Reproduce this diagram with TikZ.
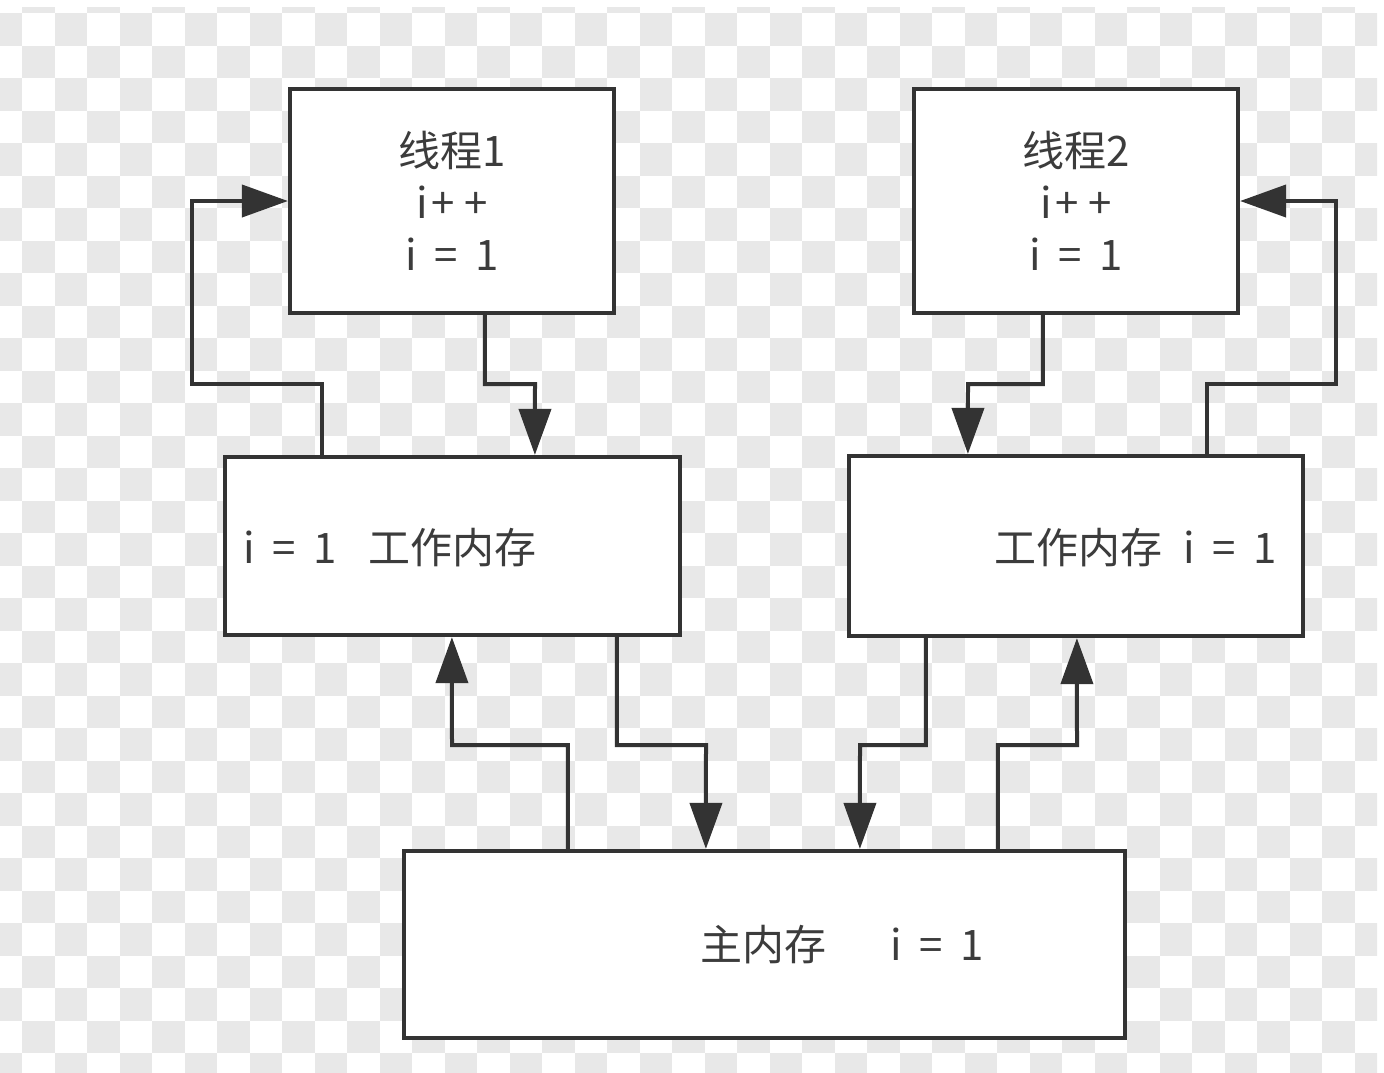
\documentclass[tikz,border=0pt]{standalone}
\usepackage{fontspec}
\newfontfamily\cjk{Noto Sans CJK SC}
\usetikzlibrary{arrows.meta}
\definecolor{linec}{HTML}{333333}
\definecolor{textc}{HTML}{3C3C3C}
\definecolor{chk}{RGB}{232,232,232}
\newcommand{\myieq}{i\hspace{0.42em}=\hspace{0.42em}1}
\newcommand{\myipp}{i\hspace{0.08em}+\hspace{0.22em}+}
\begin{document}
\begin{tikzpicture}[x=1pt,y=-1pt,
  box/.style={draw=linec, line width=4.2pt, fill=white, rectangle, inner sep=0pt},
  txt/.style={text=textc, inner sep=0pt, font=\cjk\fontsize{42pt}{52pt}\selectfont},
  conn/.style={draw=linec, line width=4pt, -{Triangle[length=46pt,width=32pt]}}]
\useasboundingbox (0,0) rectangle (1384,1072);
\fill[white] (0,0) rectangle (1384,1072);
\begin{scope}
\clip (0,7) rectangle (1377,1072);
\foreach \j in {0,...,33}{
  \pgfmathtruncatemacro\s{mod(\j+1,2)}
  \pgfmathtruncatemacro\t{\s+2}
  \foreach \i in {\s,\t,...,43}{
    \fill[chk] ({-10.5+32.5*\i},{-19.5+32.5*\j}) rectangle +(32.5,32.5);
  }
}
\end{scope}
% boxes
\node[box, txt, align=center, minimum width=324pt, minimum height=224pt] (t1) at (452,201) {线程1\\\myipp\\\myieq};
\node[box, txt, align=center, minimum width=324pt, minimum height=224pt] (t2) at (1076,201) {线程2\\\myipp\\\myieq};
\node[box, minimum width=455pt, minimum height=178pt] (wm1) at (452.5,546) {};
\node[box, minimum width=454pt, minimum height=180pt] (wm2) at (1076,546) {};
\node[box, minimum width=721pt, minimum height=187pt] (mm) at (764.5,944.5) {};
% labels
\node[txt, anchor=west] (wm1l) at (243,548) {\myieq\hspace{0.75em}工作内存};
\node[txt, anchor=east] (wm2l) at (1277,548) {工作内存\hspace{0.5em}\myieq};
\node[txt, anchor=west] (mml) at (700,945) {主内存\hspace{64pt}\myieq};
% connectors
\draw[conn] ([xshift=99pt]wm1.north west) |- (192,384) |- (t1.west);
\draw[conn] ([xshift=197pt]t1.south west) |- (535,384) -- ([xshift=312pt]wm1.north west);
\draw[conn] ([xshift=-98pt]wm2.north east) |- (1336,384) |- (t2.east);
\draw[conn] ([xshift=131pt]t2.south west) |- (968,384) -- ([xshift=121pt]wm2.north west);
\draw[conn] ([xshift=166pt]mm.north west) |- (452,745) -- ([xshift=229pt]wm1.south west);
\draw[conn] ([xshift=394pt]wm1.south west) |- (706,745) -- ([xshift=304pt]mm.north west);
\draw[conn] ([xshift=79pt]wm2.south west) |- (860,745) -- ([xshift=458pt]mm.north west);
\draw[conn] ([xshift=596pt]mm.north west) |- (1077,745) -- ([xshift=230pt]wm2.south west);
\end{tikzpicture}
\end{document}
